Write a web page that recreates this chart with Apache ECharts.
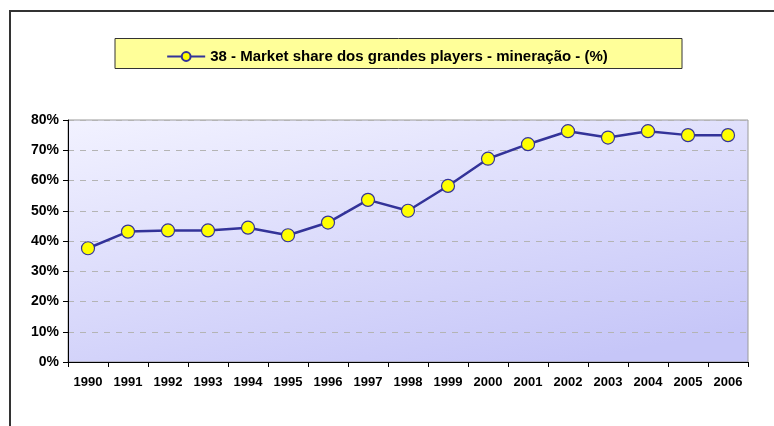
<!DOCTYPE html>
<html>
<head>
<meta charset="utf-8">
<script src="https://cdn.jsdelivr.net/npm/echarts@6/dist/echarts.min.js"></script>
<style>
    html, body { margin: 0; padding: 0; background: #fff; }
    #chart { width: 774px; height: 426px; }
</style>
</head>
<body>
<div id="chart"></div>
<script>
// Chart data
const years = ['1990', '1991', '1992', '1993', '1994', '1995', '1996', '1997', '1998',
    '1999', '2000', '2001', '2002', '2003', '2004', '2005', '2006'];
const marketShare = [37.6, 43.1, 43.5, 43.5, 44.4, 41.9, 46.1, 53.6, 50.0,
    58.2, 67.2, 72.0, 76.3, 74.2, 76.3, 75.0, 75.0];
const seriesName = '38 - Market share dos grandes players - mineração - (%)';

const fontFamily = '"Liberation Sans", Arial, sans-serif';

document.addEventListener('DOMContentLoaded', function() {
    const chart = echarts.init(document.getElementById('chart'));

    chart.setOption({
        animation: false,
        graphic: [
            // outer frame (left and top edges visible)
            {
                type: 'rect',
                shape: { x: 10, y: 11, width: 800, height: 500 },
                style: { fill: 'none', stroke: '#333', lineWidth: 2 },
                z: 0
            },
            // legend box
            {
                type: 'rect',
                shape: { x: 115, y: 38.5, width: 567, height: 30 },
                style: { fill: '#ffff99', stroke: '#333', lineWidth: 1 },
                z: 0
            }
        ],
        legend: {
            top: 44,
            left: 'center',
            itemWidth: 38,
            itemHeight: 11,
            itemGap: 4,
            textStyle: { fontFamily: fontFamily, fontWeight: 'bold', fontSize: 15, color: '#000' },
            data: [seriesName],
            z: 5
        },
        grid: {
            left: 68,
            right: 26,
            top: 120,
            bottom: 64,
            show: true,
            borderColor: '#9a9a9a',
            borderWidth: 1,
            backgroundColor: {
                type: 'linear', x: 0, y: 0, x2: 0.1, y2: 1.37,
                colorStops: [
                    { offset: 0, color: '#f2f2ff' },
                    { offset: 1, color: '#c6c6f8' }
                ]
            }
        },
        xAxis: {
            type: 'category',
            data: years,
            boundaryGap: true,
            axisLine: { lineStyle: { color: '#000', width: 1 } },
            axisTick: { show: true, length: 5, lineStyle: { color: '#000' } },
            axisLabel: { color: '#000', fontFamily: fontFamily, fontWeight: 'bold', fontSize: 13, margin: 14 }
        },
        yAxis: {
            type: 'value',
            min: 0,
            max: 80,
            interval: 10,
            axisLine: { show: true, lineStyle: { color: '#000', width: 1 } },
            axisTick: { show: true, length: 5, lineStyle: { color: '#000' } },
            axisLabel: {
                color: '#000', fontFamily: fontFamily, fontWeight: 'bold', fontSize: 14, margin: 9,
                formatter: '{value}%'
            },
            splitLine: { show: true, lineStyle: { color: '#b4b4b4', type: [6, 6], width: 1 } }
        },
        series: [{
            name: seriesName,
            type: 'line',
            data: marketShare,
            symbol: 'circle',
            symbolSize: 13,
            lineStyle: { color: '#333399', width: 2.5 },
            itemStyle: { color: '#ffff00', borderColor: '#333399', borderWidth: 1.2 },
            z: 3
        }]
    });
});
</script>
</body>
</html>
